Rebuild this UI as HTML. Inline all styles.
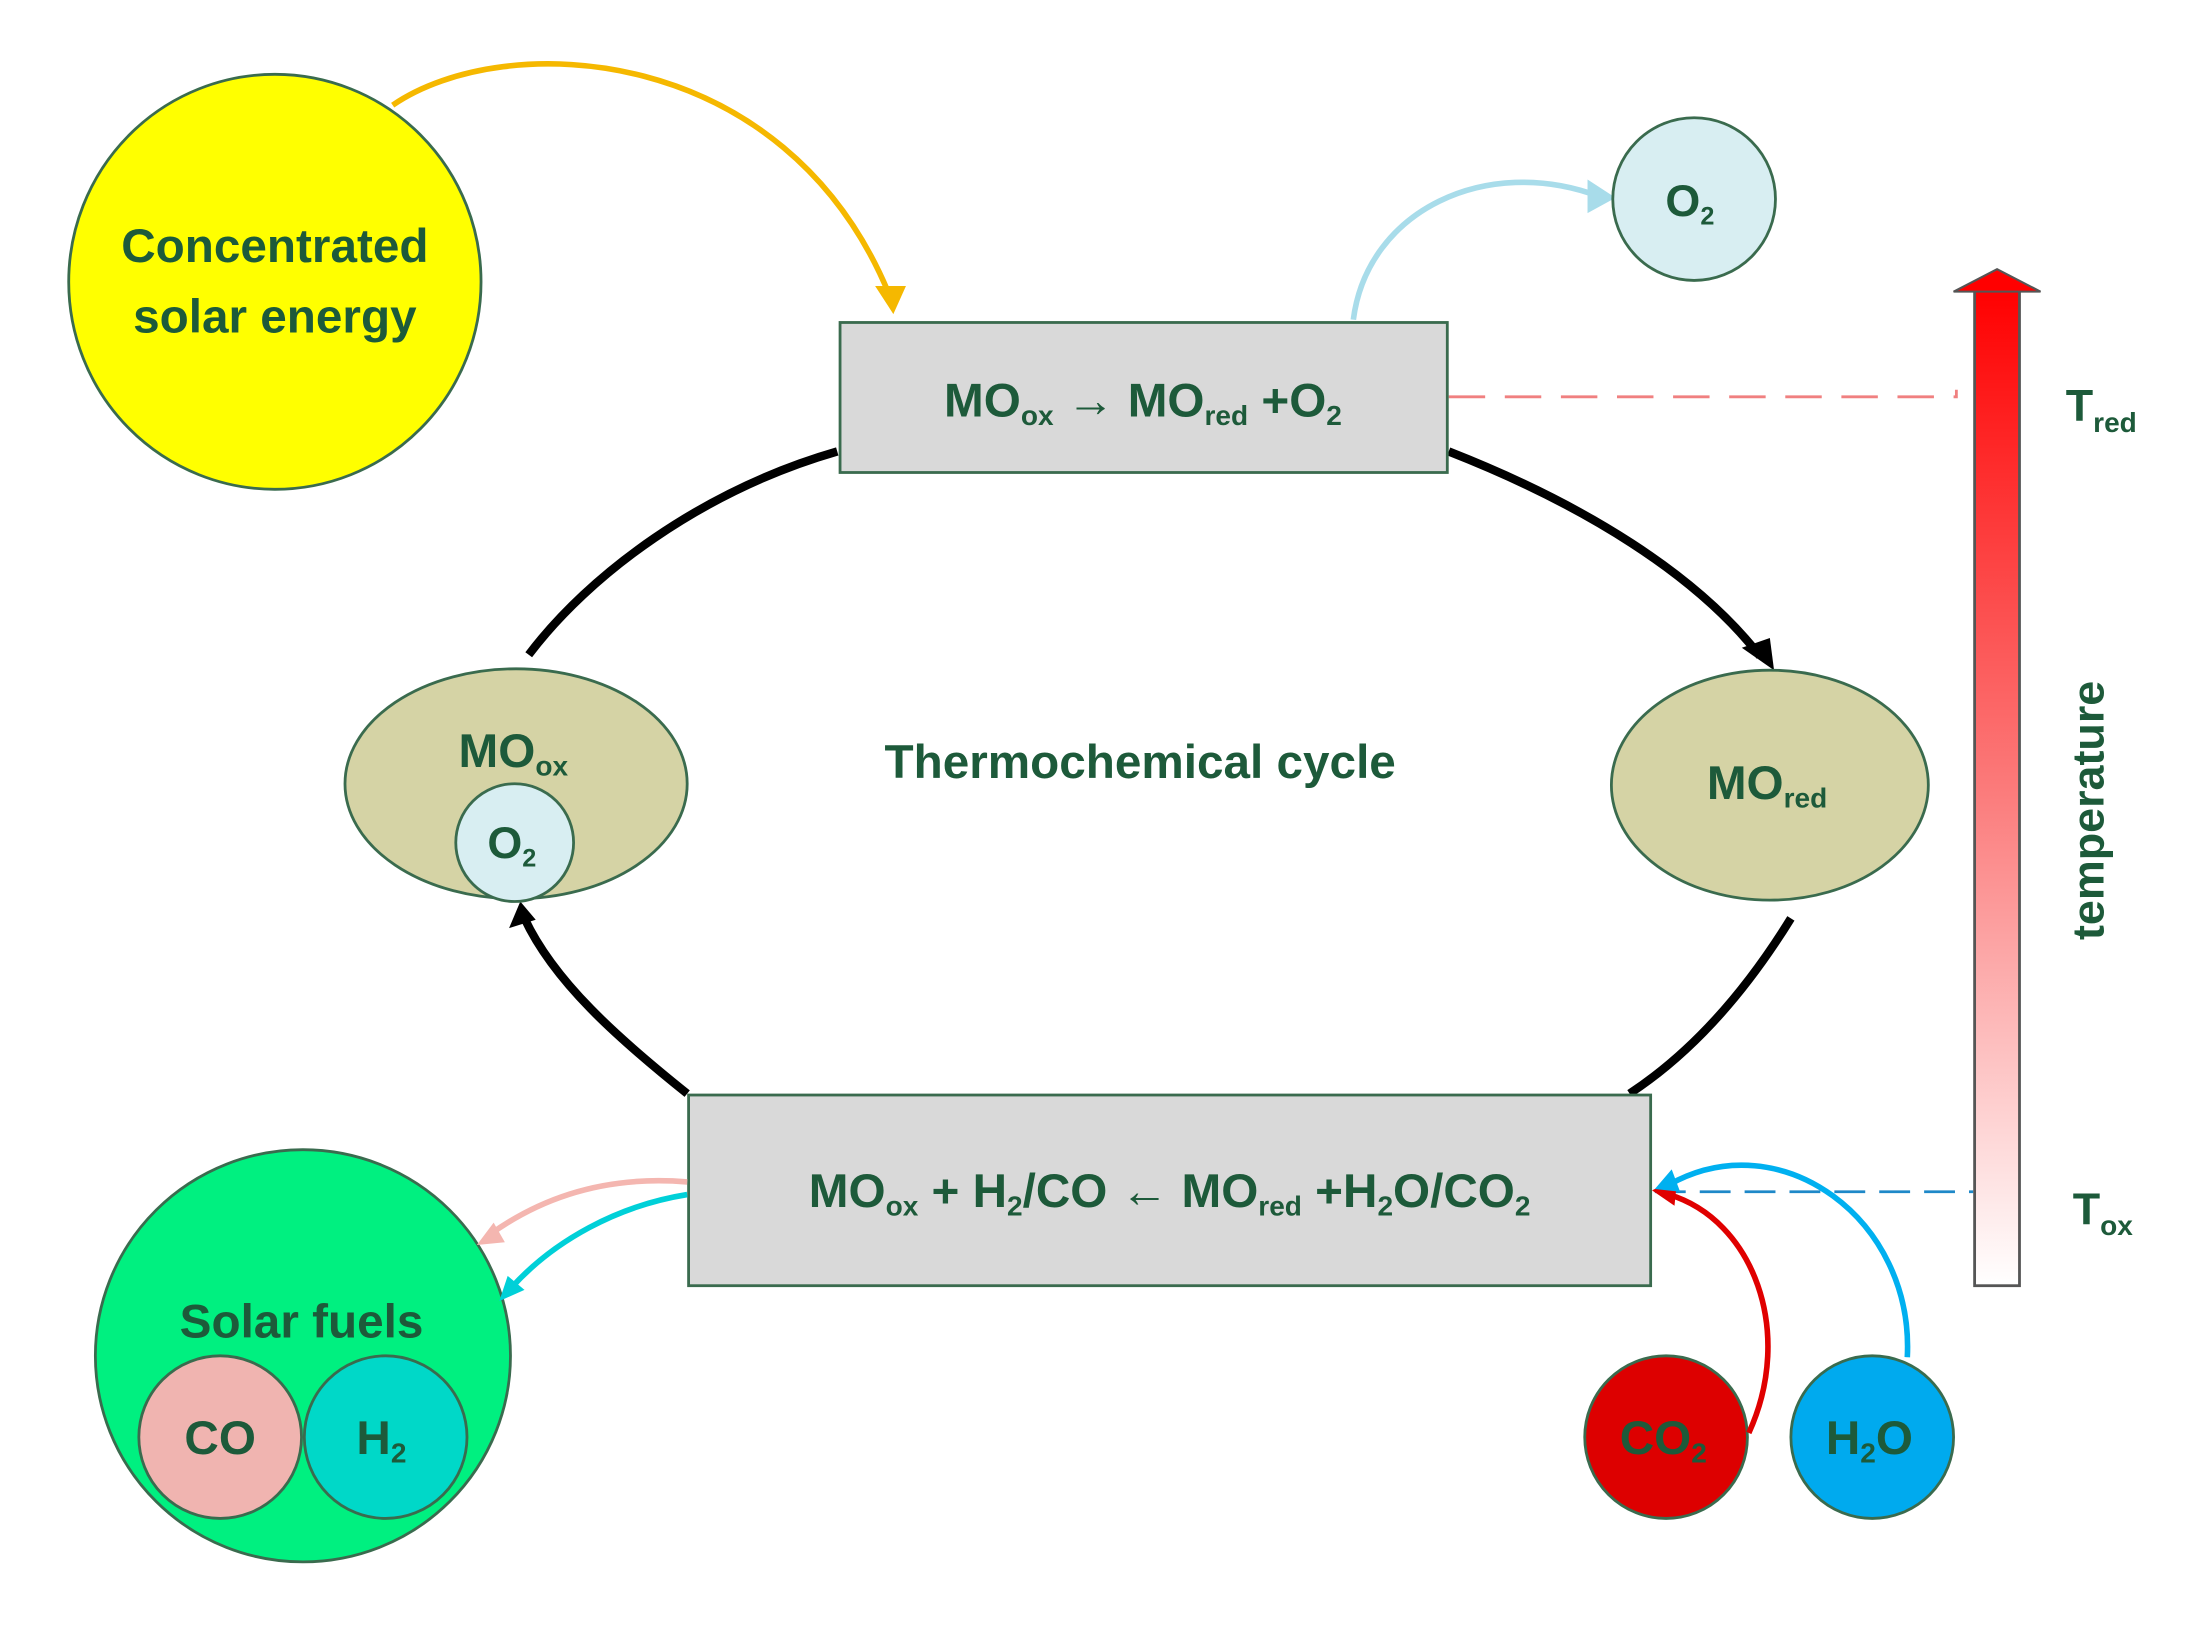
<!DOCTYPE html>
<html><head><meta charset="utf-8"><style>
html,body{margin:0;padding:0;background:#fff;width:2199px;height:1625px;overflow:hidden}
svg{display:block}
text{font-family:"Liberation Sans Narrow","Liberation Sans",sans-serif;font-weight:bold;fill:#1d5a3a}
</style></head><body>
<svg width="2199" height="1625" viewBox="0 0 1568 1159" preserveAspectRatio="none" xmlns="http://www.w3.org/2000/svg">
<defs>
<linearGradient id="tg" x1="0" y1="0" x2="0" y2="1">
<stop offset="0" stop-color="#ff0000"/><stop offset="0.5" stop-color="#fb7a7a"/><stop offset="1" stop-color="#ffffff"/>
</linearGradient>
</defs>
<ellipse cx="196" cy="201" rx="147" ry="148" fill="#ffff00" stroke="#3a6b4e" stroke-width="2"/>
<text x="196" y="187" font-size="34" text-anchor="middle">Concentrated</text>
<text x="196" y="237" font-size="34" text-anchor="middle">solar energy</text>
<path d="M280 75 C 360 20, 560 30, 634 210" fill="none" stroke="#f5b800" stroke-width="4"/>
<polygon points="624,204 646,204 637,224" fill="#f5b800"/>
<path d="M965 228 C 975 150, 1060 110, 1140 140" fill="none" stroke="#a8dcea" stroke-width="4"/>
<polygon points="1132,128 1152,141 1132,152" fill="#a8dcea"/>
<ellipse cx="1208" cy="142" rx="58" ry="58" fill="#d8eef2" stroke="#3a6b4e" stroke-width="2"/>
<text x="1205" y="154" font-size="32" text-anchor="middle">O<tspan font-size="18" dy="6">2</tspan></text>
<path d="M1033 283 H1395 V278" fill="none" stroke="#f08080" stroke-width="2" stroke-dasharray="26,14"/>
<line x1="1180" y1="850" x2="1407" y2="850" stroke="#1e88c8" stroke-width="2" stroke-dasharray="22,10"/>
<path d="M597 322 C 500 350, 420 410, 377 467" fill="none" stroke="#000" stroke-width="6"/>
<path d="M1033 322 C 1130 360, 1210 410, 1255 468" fill="none" stroke="#000" stroke-width="6"/>
<polygon points="1242,462 1262,455 1265,478" fill="#000"/>
<path d="M1277 655 C 1240 715, 1200 755, 1162 780" fill="none" stroke="#000" stroke-width="6"/>
<path d="M490 780 C 440 740, 395 700, 374 655" fill="none" stroke="#000" stroke-width="6"/>
<polygon points="363,662 382,656 371,643" fill="#000"/>
<rect x="599" y="230" width="433" height="107" fill="#d9d9d9" stroke="#3a6b4e" stroke-width="2"/>
<text x="815" y="297" font-size="34" text-anchor="middle">MO<tspan font-size="20" dy="6">ox</tspan><tspan dy="-6"> → MO</tspan><tspan font-size="20" dy="6">red</tspan><tspan dy="-6"> +O</tspan><tspan font-size="20" dy="6">2</tspan></text>
<ellipse cx="368" cy="559" rx="122" ry="82" fill="#d5d3a5" stroke="#3a6b4e" stroke-width="2"/>
<text x="366" y="547" font-size="34" text-anchor="middle">MO<tspan font-size="20" dy="6">ox</tspan></text>
<ellipse cx="367" cy="601" rx="42" ry="42" fill="#d8eef2" stroke="#3a6b4e" stroke-width="2"/>
<text x="365" y="612" font-size="32" text-anchor="middle">O<tspan font-size="18" dy="6">2</tspan></text>
<ellipse cx="1262" cy="560" rx="113" ry="82" fill="#d5d3a5" stroke="#3a6b4e" stroke-width="2"/>
<text x="1260" y="570" font-size="34" text-anchor="middle">MO<tspan font-size="20" dy="6">red</tspan></text>
<text x="813" y="555" font-size="34" text-anchor="middle">Thermochemical  cycle</text>
<rect x="491" y="781" width="686" height="136" fill="#d9d9d9" stroke="#3a6b4e" stroke-width="2"/>
<text x="834" y="861" font-size="34" text-anchor="middle">MO<tspan font-size="20" dy="6">ox</tspan><tspan dy="-6"> + H</tspan><tspan font-size="20" dy="6">2</tspan><tspan dy="-6">/CO  ←  MO</tspan><tspan font-size="20" dy="6">red</tspan><tspan dy="-6"> +H</tspan><tspan font-size="20" dy="6">2</tspan><tspan dy="-6">O/CO</tspan><tspan font-size="20" dy="6">2</tspan></text>
<ellipse cx="216" cy="967" rx="148" ry="147" fill="#00f080" stroke="#3a6b4e" stroke-width="2"/>
<text x="215" y="954" font-size="34" text-anchor="middle">Solar fuels</text>
<ellipse cx="157" cy="1025" rx="58" ry="58" fill="#f0b4b0" stroke="#3a6b4e" stroke-width="2"/>
<text x="157" y="1037" font-size="34" text-anchor="middle">CO</text>
<ellipse cx="275" cy="1025" rx="58" ry="58" fill="#00d8c8" stroke="#3a6b4e" stroke-width="2"/>
<text x="272" y="1037" font-size="34" text-anchor="middle">H<tspan font-size="20" dy="6">2</tspan></text>
<path d="M490 843 C 430 838, 385 855, 350 880" fill="none" stroke="#f4b6b0" stroke-width="4"/>
<polygon points="340,888 352,872 360,886" fill="#f4b6b0"/>
<path d="M490 852 C 440 860, 395 885, 365 918" fill="none" stroke="#00d0d8" stroke-width="4"/>
<polygon points="356,928 362,910 374,920" fill="#00d0d8"/>
<ellipse cx="1188" cy="1025" rx="58" ry="58" fill="#dd0000" stroke="#3a6b4e" stroke-width="2"/>
<text x="1186" y="1037" font-size="34" text-anchor="middle">CO<tspan font-size="20" dy="6">2</tspan></text>
<ellipse cx="1335" cy="1025" rx="58" ry="58" fill="#00aaee" stroke="#3a6b4e" stroke-width="2"/>
<text x="1333" y="1037" font-size="34" text-anchor="middle">H<tspan font-size="20" dy="6">2</tspan><tspan dy="-6">O</tspan></text>
<path d="M1247 1022 C 1280 950, 1250 870, 1190 852" fill="none" stroke="#e00000" stroke-width="4"/>
<polygon points="1178,849 1196,840 1194,860" fill="#e00000"/>
<path d="M1360 968 C 1365 870, 1270 800, 1190 845" fill="none" stroke="#00b0f0" stroke-width="4"/>
<polygon points="1180,848 1192,834 1198,850" fill="#00b0f0"/>
<rect x="1408" y="205" width="32" height="712" fill="url(#tg)" stroke="#555" stroke-width="2"/>
<polygon points="1393,208 1455,208 1424,192" fill="#ff0000" stroke="#555" stroke-width="1.5"/>
<text x="1473" y="300" font-size="32">T<tspan font-size="20" dy="8">red</tspan></text>
<text x="1478" y="873" font-size="32">T<tspan font-size="20" dy="8">ox</tspan></text>
<text x="0" y="0" font-size="32" text-anchor="middle" transform="translate(1500 578) rotate(-90)">temperature</text>
</svg>
</body></html>
